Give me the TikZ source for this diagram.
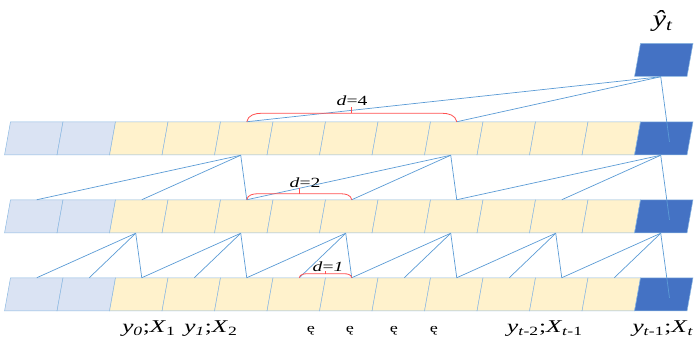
\documentclass[tikz,border=0pt]{standalone}
\usepackage{fontspec}
\setmainfont{Liberation Serif}
\usetikzlibrary{calc}
\definecolor{padblue}{RGB}{218,227,243}
\definecolor{cellyellow}{RGB}{255,242,204}
\definecolor{lastblue}{RGB}{68,114,196}
\definecolor{linkblue}{RGB}{91,155,213}
\definecolor{bracered}{RGB}{255,80,80}
\newcommand{\yxlabel}[2]{\textit{y}\textsubscript{#1};\textit{X}\textsubscript{#2}}

\begin{document}
\begin{tikzpicture}[
    x=1pt, y=1pt,
    cell/.style={draw=linkblue!70, line width=0.5pt, minimum width=52.5pt,
                minimum height=33pt, inner sep=0pt, xslant=0.18},
    padcell/.style={cell, fill=padblue},
    seqcell/.style={cell, fill=cellyellow},
    lastcell/.style={cell, fill=lastblue},
    conn/.style={draw=linkblue, line width=0.7pt},
    brace/.style={draw=bracered, line width=0.8pt},
    dlabel/.style={font=\fontsize{14}{16}\selectfont, xscale=1.4, inner sep=0pt},
    seqlabel/.style={font=\fontsize{18}{20}\selectfont, xscale=1.4, inner sep=0pt, anchor=base}
]
\useasboundingbox (0,0) rectangle (699,340);

% three layers of cells
\foreach \r/\ry in {1/201.5, 2/123.5, 3/45.5}
  \foreach \c in {0,...,12} {
    \ifnum\c<2 \def\kind{padcell}\else\ifnum\c=12 \def\kind{lastcell}\else\def\kind{seqcell}\fi\fi
    \node[\kind] (r\r-\c) at (33.75+52.5*\c, \ry) {};
  }
\node[lastcell] (out) at (663.75, 280) {};
\node[font=\fontsize{23}{25}\selectfont, xscale=1.3] (yhat) at (663, 319) {\textit{ŷ}\textsubscript{\textit{t}}};

% output to top layer, d=4
\foreach \c in {4,8} \draw[conn] (out.south) -- (r1-\c.north);
\draw[conn] (out.south) -- ($(out.south)!1.45!(r1-12.north)$);

% top layer to middle layer, d=2
\foreach \c in {4,8,12}
  \foreach \k in {2,4} {
    \pgfmathtruncatemacro\lo{\c-\k}
    \draw[conn] (r1-\c.south) -- (r2-\lo.north);
  }
\foreach \c in {4,8} \draw[conn] (r1-\c.south) -- (r2-\c.north);
\draw[conn] (r1-12.south) -- ($(r1-12.south)!1.45!(r2-12.north)$);

% middle layer to bottom layer, d=1
\foreach \c in {2,4,...,12}
  \foreach \k in {1,2} {
    \pgfmathtruncatemacro\lo{\c-\k}
    \draw[conn] (r2-\c.south) -- (r3-\lo.north);
  }
\foreach \c in {2,4,...,10} \draw[conn] (r2-\c.south) -- (r3-\c.north);
\draw[conn] (r2-12.south) -- ($(r2-12.south)!1.45!(r3-12.north)$);

% dilation braces
\draw[brace] (r1-4.north) to[out=80,in=180] ++(15,8.5) -- ($(r1-8.north)+(-15,8.5)$) to[out=0,in=100] (r1-8.north);
\draw[brace] ($(r1-4.north)!0.5!(r1-8.north)+(0,8.5)$) -- ++(0,6);
\node[dlabel] (d4) at (352, 239) {\textit{d}=4};

\draw[brace] (r2-4.north) to[out=80,in=180] ++(11,6) -- ($(r2-6.north)+(-11,6)$) to[out=0,in=100] (r2-6.north);
\draw[brace] ($(r2-4.north)!0.5!(r2-6.north)+(0,6)$) -- ++(0,6);
\node[dlabel] (d2) at (305, 157) {\textit{d}=2};

\draw[brace] (r3-5.north) to[out=80,in=180] ++(8,4) -- ($(r3-6.north)+(-8,4)$) to[out=0,in=100] (r3-6.north);
\draw[brace] ($(r3-5.north)!0.5!(r3-6.north)+(0,4)$) -- ++(0,3);
\node[dlabel] (d1) at (328, 73) {\textit{d}=\textit{1}};

% input labels
\node[seqlabel] (in1) at (149, 7) {\yxlabel{\textit{0}}{1}};
\node[seqlabel] (in2) at (211, 7) {\yxlabel{\textit{1}}{2}};
\foreach \x [count=\i] in {311, 350, 394, 434}
  \node[seqlabel, font=\fontsize{13}{14}\selectfont] (dots\i) at (\x, 7) {ę};
\node[seqlabel] (in3) at (545, 7) {\yxlabel{\textit{t}-2}{\textit{t}-1}};
\node[seqlabel] (in4) at (663, 7) {\yxlabel{\textit{t}-1}{\textit{t}}};

\end{tikzpicture}
\end{document}
